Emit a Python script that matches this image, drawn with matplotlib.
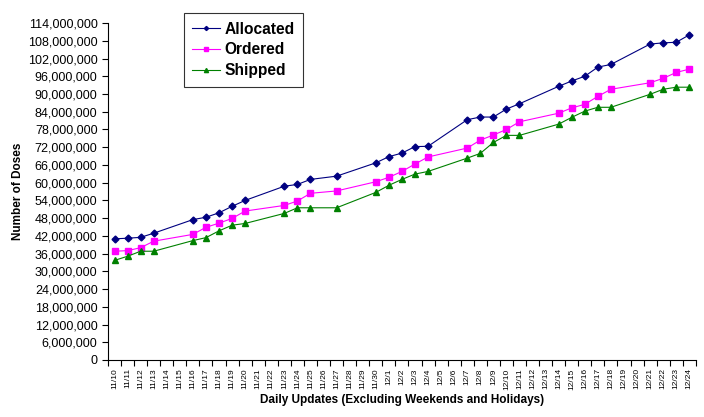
import matplotlib.pyplot as plt
import numpy as np
from matplotlib.ticker import FuncFormatter, FixedLocator

plt.rcParams['font.family'] = ['Liberation Sans', 'DejaVu Sans']

# all category labels on the x axis (every calendar day)
days = [f"11/{d}" for d in range(10, 31)] + [f"12/{d}" for d in range(1, 25)]

# days that actually have an update (weekends and holidays skipped)
update_days = ['11/10', '11/11', '11/12', '11/13', '11/16', '11/17', '11/18', '11/19',
               '11/20', '11/23', '11/24', '11/25', '11/27', '11/30', '12/1', '12/2',
               '12/3', '12/4', '12/7', '12/8', '12/9', '12/10', '12/11', '12/14',
               '12/15', '12/16', '12/17', '12/18', '12/21', '12/22', '12/23', '12/24']

# millions of doses
allocated = [41.0, 41.2, 41.5, 42.9, 47.5, 48.3, 49.8, 52.0, 54.0, 58.8, 59.4, 61.1,
             62.2, 66.7, 68.8, 70.0, 72.2, 72.3, 81.3, 82.2, 82.2, 84.9, 86.7, 92.6,
             94.4, 96.0, 99.1, 100.0, 106.9, 107.3, 107.5, 110.0]
ordered = [36.8, 37.0, 38.0, 40.2, 42.5, 44.9, 46.3, 47.9, 50.4, 52.3, 53.8, 56.4,
           57.2, 60.3, 61.8, 63.8, 66.3, 68.7, 71.7, 74.4, 76.1, 78.0, 80.6, 83.5,
           85.3, 86.5, 89.2, 91.6, 93.8, 95.3, 97.3, 98.4]
shipped = [33.7, 35.1, 36.8, 36.8, 40.4, 41.4, 43.7, 45.6, 46.2, 49.6, 51.5, 51.5,
           51.5, 56.7, 59.1, 61.1, 62.9, 63.8, 68.3, 69.9, 73.6, 76.0, 76.0, 79.8,
           82.1, 84.2, 85.5, 85.5, 89.9, 91.6, 92.3, 92.3]

x = np.array([days.index(d) for d in update_days])

fig = plt.figure(figsize=(7.04, 4.17), dpi=100)
ax = fig.add_axes([0.1534, 0.1367, 0.835, 0.808])

ax.plot(x, np.array(allocated) * 1e6, color='#000080', lw=0.8, marker='D', ms=3.5, label='Allocated')
ax.plot(x, np.array(ordered) * 1e6, color='#FF00FF', lw=0.8, marker='s', ms=5, label='Ordered')
ax.plot(x, np.array(shipped) * 1e6, color='#008000', lw=0.8, marker='^', ms=5, label='Shipped')

ax.set_xlim(-0.5, len(days) - 0.5)
ax.set_ylim(0, 114e6)
ax.set_yticks(np.arange(0, 114e6 + 1, 6e6))
ax.yaxis.set_major_formatter(FuncFormatter(lambda v, p: f"{int(v):,}"))
ax.tick_params(axis='y', labelsize=9, length=4, width=0.8, direction='out')

ax.set_xticks(np.arange(len(days)))
ax.set_xticklabels(days, rotation=90, fontsize=6)
ax.tick_params(axis='x', which='major', length=0, pad=6)
ax.xaxis.set_minor_locator(FixedLocator(np.arange(len(days) + 1) - 0.5))
ax.tick_params(axis='x', which='minor', length=4, width=0.8, direction='out')

for s in ['top', 'right']:
    ax.spines[s].set_visible(False)
for s in ['left', 'bottom']:
    ax.spines[s].set_linewidth(0.8)

ax.set_ylabel('Number of Doses', fontsize=8.5, fontweight='bold', labelpad=3)
ax.set_xlabel('Daily Updates (Excluding Weekends and Holidays)', fontsize=8.5, fontweight='bold', labelpad=3)

leg = ax.legend(loc='upper left', bbox_to_anchor=(0.129, 1.03), borderaxespad=0,
                prop={'size': 11.2, 'weight': 'bold'}, frameon=True,
                fancybox=False, edgecolor='black', handlelength=1.75, handletextpad=0.3,
                labelspacing=0.38, borderpad=0.55, markerscale=0.6)
leg.get_frame().set_linewidth(0.8)

fig.savefig('out.png', dpi=100)
